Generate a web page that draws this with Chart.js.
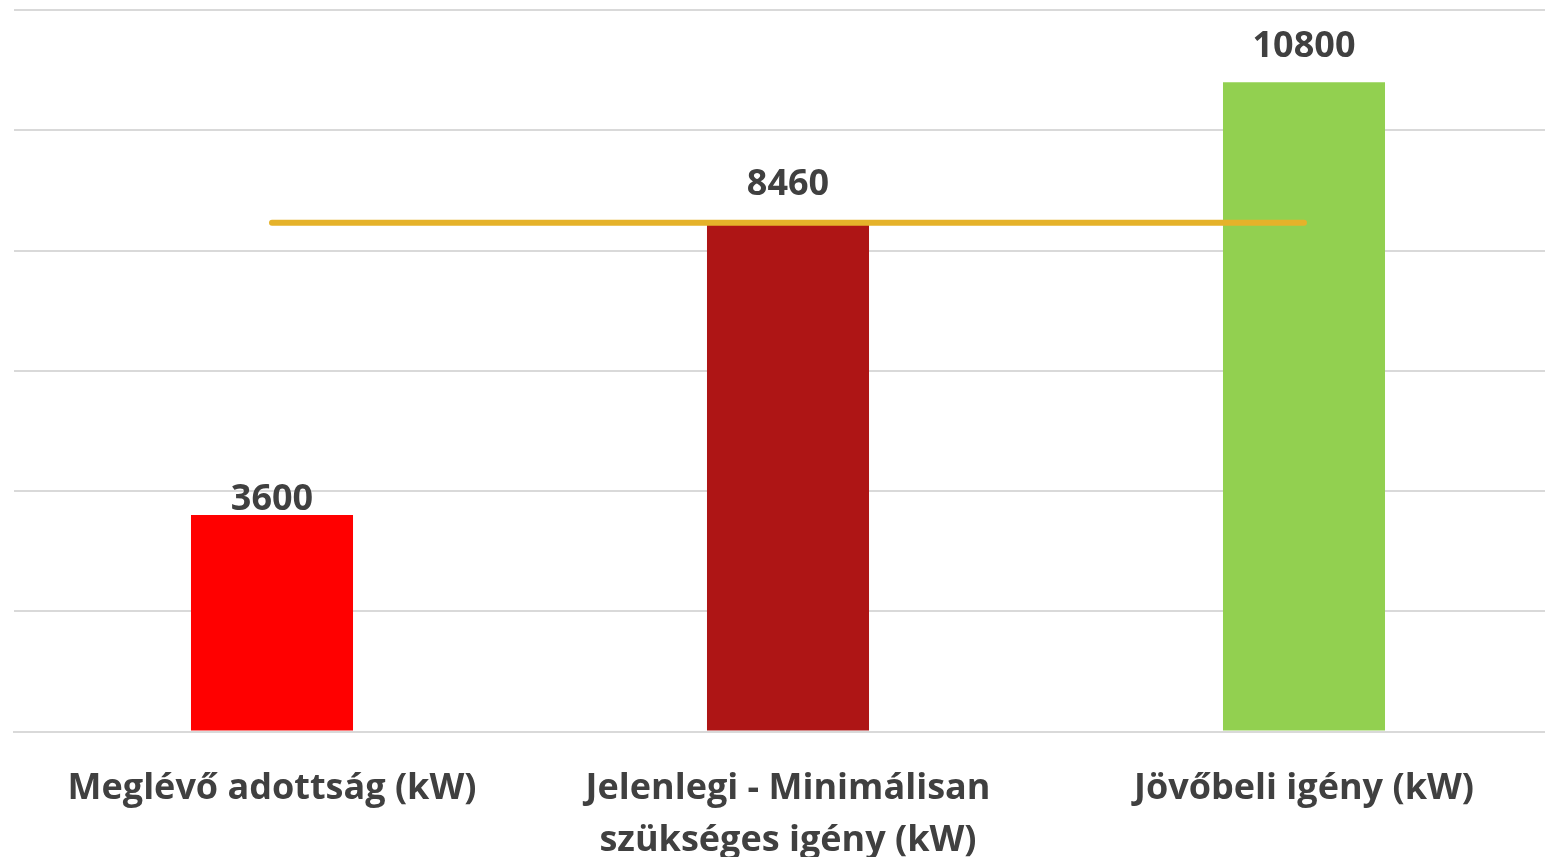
<!DOCTYPE html>
<html>
<head>
<meta charset="utf-8">
<script src="https://cdn.jsdelivr.net/npm/chart.js@4"></script>
<style>
  html, body { margin: 0; padding: 0; background: #fff; overflow: hidden; }
  #wrap { position: relative; width: 1565px; height: 890px; }
</style>
</head>
<body>
<div id="wrap"><canvas id="chart"></canvas></div>
<script>
const categories = [
  'Meglévő adottság (kW)',
  ['Jelenlegi - Minimálisan', 'szükséges igény (kW)'],
  'Jövőbeli igény (kW)'
];
const barValues = [3600, 8460, 10800];
const barColors = ['#FF0000', '#AE1515', '#92D050'];
const lineValues = [8460, 8460, 8460];
const yMax = 12000;
const yStep = 2000;

const ctx = document.getElementById('chart').getContext('2d');

// value labels over the bars (the reference places them a bit unevenly)
const valueLabels = {
  id: 'valueLabels',
  afterDatasetsDraw(chart) {
    const meta = chart.getDatasetMeta(1);
    const c = chart.ctx;
    const offsets = [15, 38, 35];
    c.save();
    c.font = 'bold 36px "Open Sans"';
    c.fillStyle = '#404040';
    c.textAlign = 'center';
    c.textBaseline = 'middle';
    meta.data.forEach((bar, i) => {
      c.fillText(barValues[i], bar.x, bar.y - offsets[i]);
    });
    c.restore();
  }
};

new Chart(ctx, {
  data: {
    labels: categories,
    datasets: [{
      type: 'line',
      data: lineValues,
      borderColor: '#E5B22A',
      borderWidth: 6,
      pointRadius: 0,
      borderCapStyle: 'round',
      order: 0
    }, {
      type: 'bar',
      data: barValues,
      backgroundColor: barColors,
      categoryPercentage: 1,
      barPercentage: 0.314,
      order: 1
    }]
  },
  options: {
    responsive: true,
    maintainAspectRatio: false,
    animation: false,
    layout: { padding: { left: 14, top: 10, right: 3, bottom: 0 } },
    plugins: { legend: { display: false }, tooltip: { enabled: false } },
    scales: {
      x: {
        grid: { display: false },
        border: { color: '#D9D9D9', width: 2 },
        ticks: {
          color: '#404040',
          font: { family: 'Open Sans', size: 36, weight: 'bold', lineHeight: 1.45 },
          padding: 23,
          maxRotation: 0
        }
      },
      y: {
        min: 0,
        max: yMax,
        ticks: { display: false, stepSize: yStep },
        grid: { color: '#D9D9D9', lineWidth: 2, drawTicks: false },
        border: { display: false }
      }
    }
  },
  plugins: [valueLabels]
});
</script>
</body>
</html>
